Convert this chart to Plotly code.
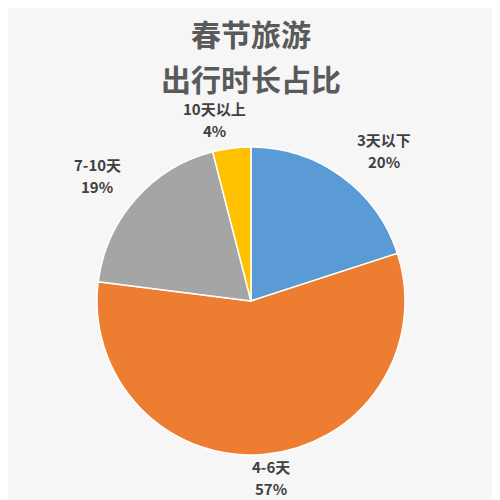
import plotly.graph_objects as go

# 数据
categories = ['3天以下', '4-6天', '7-10天', '10天以上']
values = [20, 57, 19, 4]
colors = ['#5B9BD5', '#ED7D31', '#A5A5A5', '#FFC000']
title_lines = ['春节旅游', '出行时长占比']

# 标签位置 (纸面坐标)
label_x = [0.752, 0.526, 0.178, 0.412]
label_y = [0.716, 0.062, 0.664, 0.776]

fig = go.Figure()
fig.add_trace(go.Pie(
    labels=categories,
    values=values,
    sort=False,
    direction='clockwise',
    rotation=0,
    marker=dict(colors=colors, line=dict(color='white', width=1.5)),
    textinfo='none',
    hoverinfo='label+percent',
    showlegend=False,
    domain=dict(x=[0.17, 0.802], y=[0.106, 0.722]),
))

lab_font = dict(size=15, color='#404040', family='Noto Sans CJK SC')
for i in range(len(categories)):
    fig.add_annotation(
        x=label_x[i], y=label_y[i], xref='paper', yref='paper',
        xanchor='center', yanchor='middle',
        text='<b>' + categories[i] + '</b>', showarrow=False,
        yshift=11, font=lab_font,
    )
    fig.add_annotation(
        x=label_x[i], y=label_y[i], xref='paper', yref='paper',
        xanchor='center', yanchor='middle',
        text='<b>' + str(values[i]) + '%</b>', showarrow=False,
        yshift=-11, font=lab_font,
    )

# 标题
title_y = [0.95, 0.86]
for t, ty in zip(title_lines, title_y):
    fig.add_annotation(
        x=0.486, y=ty, xref='paper', yref='paper',
        xanchor='center', yanchor='middle',
        text='<b>' + t + '</b>', showarrow=False,
        font=dict(size=30, color='#5a5a5a', family='Noto Sans CJK SC'),
    )

fig.update_layout(
    width=500, height=500,
    margin=dict(l=0, r=0, t=0, b=0),
    paper_bgcolor='#f6f6f6',
    plot_bgcolor='#f6f6f6',
)

fig.write_html('out.html')
